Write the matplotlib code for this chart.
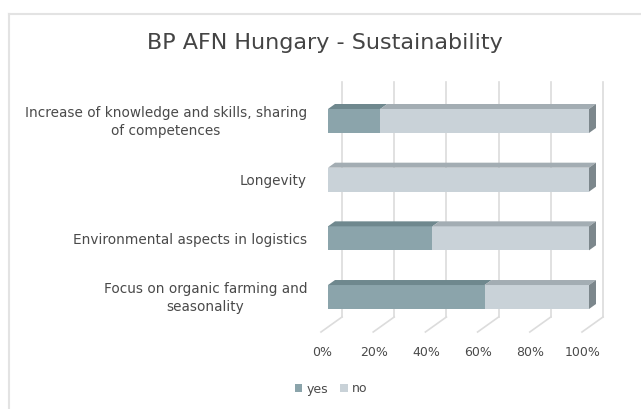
import numpy as np
import matplotlib
matplotlib.use("Agg")
from matplotlib import pyplot as plt
from matplotlib.patches import Polygon, Patch
from matplotlib.lines import Line2D

# data (percent)
categories = ["Increase of knowledge and skills, sharing\nof competences",
              "Longevity",
              "Environmental aspects in logistics",
              "Focus on organic farming and\nseasonality"]
yes = [20, 0, 40, 60]
no = [80, 100, 60, 40]
ticks = [0, 20, 40, 60, 80, 100]
tick_labels = ["0%", "20%", "40%", "60%", "80%", "100%"]

W, H = 641, 409
fig = plt.figure(figsize=(W / 100, H / 100), dpi=100)
fig.patch.set_facecolor("white")

# axes region in pixels, with matching data limits
px0, px1, py0, py1 = 300, 620, 70, 340
ax = fig.add_axes([px0 / W, 1 - py1 / H, (px1 - px0) / W, (py1 - py0) / H])
xs = 2.61      # px per percent
ys = 58.67     # px per category step
x0px, y0px = 328, 121
ax.set_xlim((px0 - x0px) / xs, (px1 - x0px) / xs)
ax.set_ylim((py1 - y0px) / ys, (py0 - y0px) / ys)
ax.axis("off")

txt = "#4a4a4a"
grid_c = "#dcdcdc"
yes_front, yes_top = "#8ba4ab", "#6f888e"
no_front, no_top = "#c9d2d8", "#a3adb3"
end_c = "#7c878c"

ypos = np.arange(len(categories))
bh = 24 / ys
bdx, bdy = 7 / xs, 5 / ys         # bar depth
gdx = 14 / xs                      # back wall offset
g_top = (82 - y0px) / ys
g_bot = (317 - y0px) / ys
f_front_y = (332 - y0px) / ys
f_dx = -21 / xs

# gridlines on back wall + floor diagonals
for t, lab in zip(ticks, tick_labels):
    ax.plot([t + gdx, t + gdx], [g_top, g_bot], color=grid_c, lw=1.2, zorder=1)
    ax.plot([t + gdx, t + gdx + f_dx], [g_bot, f_front_y], color=grid_c, lw=1.2, zorder=1)
    ax.text(t + gdx + f_dx + 0.3, (352 - y0px) / ys, lab, ha="center", va="center",
            fontsize=9, color=txt, clip_on=False)

# front faces
ax.barh(ypos, yes, height=bh, color=yes_front, zorder=3)
ax.barh(ypos, no, left=yes, height=bh, color=no_front, zorder=3)

# top faces and end caps
for y, a, b in zip(ypos, yes, no):
    yt = y - bh / 2
    yb = y + bh / 2
    for left, w, c in [(0, a, yes_top), (a, b, no_top)]:
        if w <= 0:
            continue
        ax.add_patch(Polygon([(left, yt), (left + w, yt), (left + w + bdx, yt - bdy),
                              (left + bdx, yt - bdy)], closed=True, facecolor=c,
                             edgecolor="none", zorder=3))
    r = a + b
    ax.add_patch(Polygon([(r, yt), (r, yb), (r + bdx, yb - bdy), (r + bdx, yt - bdy)],
                         closed=True, facecolor=end_c, edgecolor="none", zorder=3))

# category labels
for y, lab in zip(ypos, categories):
    ax.text((307 - x0px) / xs, y + 0.02, lab, ha="right", va="center",
            multialignment="center", fontsize=9.8, color=txt, clip_on=False,
            linespacing=1.4)

# title
fig.text(325 / W, 1 - 43 / H, "BP AFN Hungary - Sustainability", ha="center",
         va="center", fontsize=16, color="#444444")

# legend
handles = [Patch(facecolor=yes_front, label="yes"), Patch(facecolor=no_front, label="no")]
fig.legend(handles=handles, loc="center", bbox_to_anchor=(331 / W, 1 - 389 / H), ncol=2,
           frameon=False, fontsize=9, handlelength=0.6, handleheight=0.6,
           handletextpad=0.3, columnspacing=1.0, labelcolor=txt)

# chart frame
fig.add_artist(Line2D([9 / W, 9 / W], [0, 1 - 14 / H], color="#e3e3e3", lw=1.5))
fig.add_artist(Line2D([9 / W, 1], [1 - 14 / H, 1 - 14 / H], color="#e3e3e3", lw=1.5))

plt.savefig("out.png", dpi=100)
